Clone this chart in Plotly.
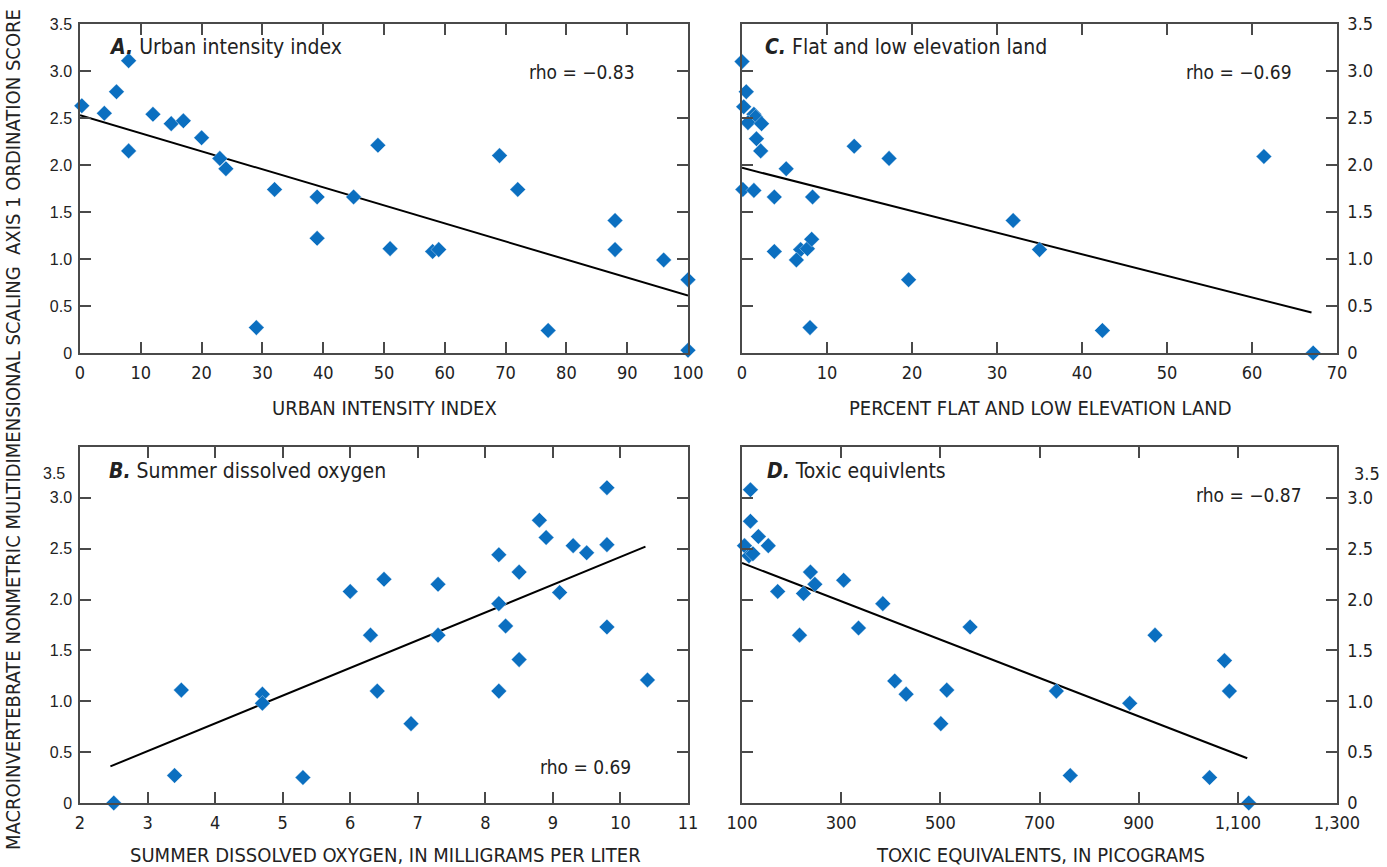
import plotly.graph_objects as go

W, H = 1387, 867

# ---------------- data ----------------
# Panel A: urban intensity index
a_x = [0.3, 4, 6, 8, 8, 12, 15, 17, 20, 23, 24, 29, 32, 39, 39, 45, 49, 51, 58, 59, 69, 72, 77, 88, 88, 96, 100, 100]
a_y = [2.63, 2.55, 2.78, 3.11, 2.15, 2.54, 2.44, 2.47, 2.29, 2.07, 1.96, 0.27, 1.74, 1.66, 1.22, 1.66, 2.21, 1.11, 1.08, 1.10, 2.10, 1.74, 0.24, 1.41, 1.10, 0.99, 0.78, 0.03]
a_fit_x = [0, 100]
a_fit_y = [2.53, 0.61]
a_rho = "rho = \u22120.83"

# Panel C: percent flat and low elevation land
c_x = [0.0, 0.5, 0.2, 1.4, 1.6, 0.7, 2.3, 1.7, 2.2, 13.2, 17.3, 5.2, 0.1, 1.4, 3.8, 8.3, 61.4, 31.9, 35.0, 3.8, 6.9, 7.7, 8.2, 6.4, 19.6, 8.0, 42.4, 67.2]
c_y = [3.10, 2.78, 2.62, 2.54, 2.51, 2.45, 2.44, 2.28, 2.15, 2.20, 2.07, 1.96, 1.74, 1.73, 1.66, 1.66, 2.09, 1.41, 1.10, 1.08, 1.10, 1.11, 1.21, 0.99, 0.78, 0.27, 0.24, 0.0]
c_fit_x = [0, 67]
c_fit_y = [1.97, 0.43]
c_rho = "rho = \u22120.69"

# Panel B: summer dissolved oxygen
b_x = [9.8, 8.8, 8.9, 9.3, 9.5, 9.8, 8.2, 8.5, 6.5, 6.0, 7.3, 9.1, 8.2, 8.3, 9.8, 6.3, 7.3, 8.5, 3.5, 4.7, 4.7, 6.4, 8.2, 10.4, 6.9, 3.4, 5.3, 2.5]
b_y = [3.10, 2.78, 2.61, 2.53, 2.46, 2.54, 2.44, 2.27, 2.20, 2.08, 2.15, 2.07, 1.96, 1.74, 1.73, 1.65, 1.65, 1.41, 1.11, 1.07, 0.98, 1.10, 1.10, 1.21, 0.78, 0.27, 0.25, 0.0]
b_fit_x = [2.45, 10.37]
b_fit_y = [0.36, 2.52]
b_rho = "rho = 0.69"

# Panel D: toxic equivalents
d_x = [117, 117, 133, 105, 153, 114, 122, 238, 247, 172, 224, 305, 384, 216, 335, 560, 933, 1073, 408, 431, 513, 734, 1083, 882, 501, 762, 1043, 1122]
d_y = [3.08, 2.77, 2.62, 2.53, 2.53, 2.43, 2.45, 2.27, 2.15, 2.08, 2.06, 2.19, 1.96, 1.65, 1.72, 1.73, 1.65, 1.40, 1.20, 1.07, 1.11, 1.10, 1.10, 0.98, 0.78, 0.27, 0.25, 0.0]
d_fit_x = [100, 1119]
d_fit_y = [2.36, 0.44]
d_rho = "rho = \u22120.87"

y_tickvals = [0, 0.5, 1.0, 1.5, 2.0, 2.5, 3.0, 3.5]
y_ticktext = ["0", "0.5", "1.0", "1.5", "2.0", "2.5", "3.0", "3.5"]
# in the lower panels the "3.5" label is printed a little below its tick
y_ticktext_low = ["0", "0.5", "1.0", "1.5", "2.0", "2.5", "3.0", ""]
low_top_label = "3.5"

# ---------------- style ----------------
COND = "Liberation Sans Narrow, DejaVu Sans Condensed, Roboto Condensed, Arial Narrow, sans-serif"
REG = "Liberation Sans, Arial, sans-serif"
BLUE = "#0b6fc0"
AX = "#4a4a4a"
TXT = "#222"


def px(x):
    return x / W


def py(y):
    return 1 - y / H


fig = go.Figure()

panels = [
    ("x", "y", a_x, a_y, a_fit_x, a_fit_y),
    ("x2", "y2", c_x, c_y, c_fit_x, c_fit_y),
    ("x3", "y3", b_x, b_y, b_fit_x, b_fit_y),
    ("x4", "y4", d_x, d_y, d_fit_x, d_fit_y),
]
for xa, ya, xs, ys, fx, fy in panels:
    fig.add_trace(go.Scatter(x=fx, y=fy, mode="lines", xaxis=xa, yaxis=ya,
                             line=dict(color="black", width=2), showlegend=False,
                             cliponaxis=False))
    fig.add_trace(go.Scatter(x=xs, y=ys, mode="markers", xaxis=xa, yaxis=ya,
                             marker=dict(symbol="diamond", size=12, color=BLUE,
                                         line=dict(color="rgba(255,255,255,0.6)", width=0.6)),
                             showlegend=False, cliponaxis=False))

common = dict(showline=True, linecolor=AX, linewidth=1.5, mirror="ticks",
              ticks="inside", ticklen=11, tickwidth=1.5, tickcolor=AX,
              showgrid=False, zeroline=False, automargin=False)

xtickfont = dict(family=COND, size=18, color=TXT)
ylfont = dict(family=REG, size=16, color=TXT)
yrfont = dict(family=COND, size=18, color=TXT)

L_DOM = [px(80), px(688)]
R_DOM = [px(742), px(1337)]
T_DOM = [py(353), py(24)]
B_DOM = [py(803), py(447)]

fig.update_layout(
    width=W, height=H, margin=dict(l=0, r=0, t=0, b=0, pad=0, autoexpand=False),
    paper_bgcolor="white", plot_bgcolor="white",
    xaxis=dict(domain=L_DOM, anchor="y", range=[0, 100], tickvals=list(range(0, 101, 10)),
               tickfont=xtickfont, ticklabelstandoff=3, **common),
    yaxis=dict(domain=T_DOM, anchor="x", range=[0, 3.5], tickvals=y_tickvals, ticktext=y_ticktext,
               tickfont=ylfont, ticklabelstandoff=3, **common),
    xaxis2=dict(domain=R_DOM, anchor="y2", range=[0, 70], tickvals=list(range(0, 71, 10)),
                tickfont=xtickfont, ticklabelstandoff=3, **common),
    yaxis2=dict(domain=T_DOM, anchor="x2", side="right", range=[0, 3.5], tickvals=y_tickvals,
                ticktext=y_ticktext, tickfont=yrfont, ticklabelstandoff=5, **common),
    xaxis3=dict(domain=L_DOM, anchor="y3", range=[2, 11], tickvals=list(range(2, 12)),
                tickfont=xtickfont, ticklabelstandoff=3, **common),
    yaxis3=dict(domain=B_DOM, anchor="x3", range=[0, 3.5], tickvals=y_tickvals, ticktext=y_ticktext_low,
                tickfont=ylfont, ticklabelstandoff=3, **common),
    xaxis4=dict(domain=R_DOM, anchor="y4", range=[100, 1300], tickvals=list(range(100, 1301, 200)),
                tickformat=",", tickfont=xtickfont, ticklabelstandoff=3, **common),
    yaxis4=dict(domain=B_DOM, anchor="x4", side="right", range=[0, 3.5], tickvals=y_tickvals,
                ticktext=y_ticktext_low, tickfont=yrfont, ticklabelstandoff=5, **common),
)

ann = []
title_font = dict(family=COND, size=21, color=TXT)
for x0, y0, txt in [(107, 47, "<b><i>A.</i></b> Urban intensity index"),
                    (763, 47, "<b><i>C.</i></b> Flat and low elevation land"),
                    (107, 471, "<b><i>B.</i></b> Summer dissolved oxygen"),
                    (765, 471, "<b><i>D.</i></b> Toxic equivlents")]:
    ann.append(dict(x=px(x0), y=py(y0), xref="paper", yref="paper", text=txt, showarrow=False,
                    xanchor="left", yanchor="middle", font=title_font))

rho_font = dict(family=COND, size=19, color=TXT)
for x1, y0, txt in [(637, 72, a_rho), (1294, 72, c_rho), (633, 767, b_rho), (1304, 495, d_rho)]:
    ann.append(dict(x=px(x1), y=py(y0), xref="paper", yref="paper", text=txt, showarrow=False,
                    xanchor="right", yanchor="middle", font=rho_font))

xt_font = dict(family=COND, size=20, color=TXT)
for xc, y0, txt in [(384, 408, "URBAN INTENSITY INDEX"),
                    (1040, 408, "PERCENT FLAT AND LOW ELEVATION LAND"),
                    (385, 855, "SUMMER DISSOLVED OXYGEN, IN MILLIGRAMS PER LITER"),
                    (1040, 855, "TOXIC EQUIVALENTS, IN PICOGRAMS")]:
    ann.append(dict(x=px(xc), y=py(y0), xref="paper", yref="paper", text=txt, showarrow=False,
                    xanchor="center", yanchor="middle", font=xt_font))

# displaced "3.5" labels of the lower panels
ann.append(dict(x=px(67), y=py(473), xref="paper", yref="paper", text=low_top_label,
                showarrow=False, xanchor="right", yanchor="middle", font=ylfont))
ann.append(dict(x=px(1352), y=py(473), xref="paper", yref="paper", text=low_top_label,
                showarrow=False, xanchor="left", yanchor="middle", font=yrfont))

ann.append(dict(x=px(13), y=py(430), xref="paper", yref="paper",
                text="MACROINVERTEBRATE NONMETRIC MULTIDIMENSIONAL SCALING  AXIS 1 ORDINATION SCORE",
                showarrow=False, textangle=-90, xanchor="center", yanchor="middle",
                font=dict(family=COND, size=20, color=TXT)))

fig.update_layout(annotations=ann)
fig.write_html("out.html")
